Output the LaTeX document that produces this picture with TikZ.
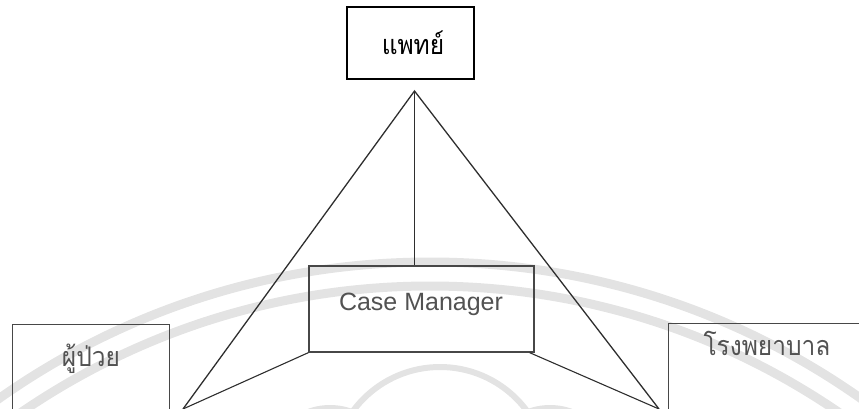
\documentclass[tikz,border=0pt]{standalone}
\usepackage{fontspec}
\setmainfont{Liberation Sans}
\newfontfamily\thaifont[Script=Thai]{Loma}
\newcommand{\tallthai}[1]{\scalebox{1}[1.1]{#1}}
\begin{document}
\begin{tikzpicture}[x=1pt,y=-1pt,
  box/.style={draw=black!72, line width=1.3pt, inner sep=0pt, fill=none},
  link/.style={draw=black!82, line width=1.3pt},
  thaitext/.style={font=\thaifont\fontsize{24.5}{26}\selectfont, text=black!68, inner sep=0pt},
  latintext/.style={font=\fontsize{25}{27}\selectfont, text=black!68, inner sep=0pt},
  wm/.style={draw=black!11, line width=9pt}]
\useasboundingbox (0,0) rectangle (859,408);
\clip (0,0) rectangle (859,408);

% faint seal in the background
\draw[wm] (430,1010) circle[radius=748];
\draw[wm] (430,1010) circle[radius=724];
\draw[wm, line width=6pt] (440,475) circle[radius=108];
\draw[wm, line width=6pt] (330,470) circle[radius=62];
\draw[wm, line width=6pt] (550,470) circle[radius=62];

% boxes
\node[box, draw=black, line width=2.4pt, minimum width=127pt, minimum height=72pt] (doctor) at (410.5,43) {};
\node[box, minimum width=225pt, minimum height=86pt] (cm) at (421.5,309) {};
\node[box, minimum width=157pt, minimum height=110pt, anchor=north west] (patient) at (12,324) {};
\node[box, minimum width=220pt, minimum height=110pt, anchor=north west] (hospital) at (668,323) {};

% labels
\node[thaitext, text=black] (doctor-text) at (413,43) {\tallthai{แพทย์}};
\node[latintext] (cm-text) at (421,304) {Case Manager};
\node[thaitext] (patient-text) at (91,359) {\tallthai{ผู้ป่วย}};
\node[thaitext] (hospital-text) at (767,343) {\tallthai{โรงพยาบาล}};

% connectors
\coordinate (apex) at (414.5,91);
\coordinate (lfoot) at (183,409);
\coordinate (rfoot) at (659,409);
\draw[link] (lfoot) -- (apex) -- (rfoot);
\draw[link, line width=1.1pt] (apex) -- (apex |- cm.north);
\draw[link, line width=1.1pt] (cm.south west) -- (lfoot);
\draw[link, line width=1.1pt] ([xshift=-5pt]cm.south east) -- (rfoot);
\end{tikzpicture}
\end{document}
